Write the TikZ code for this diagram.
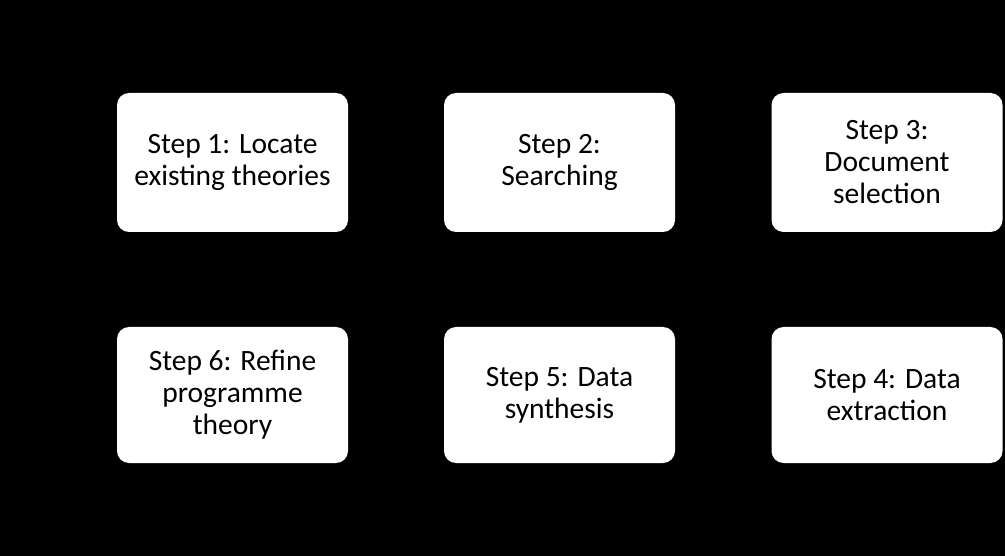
\documentclass[tikz,border=0pt]{standalone}
\usepackage{fontspec}
\setmainfont{Carlito}
\begin{document}
\begin{tikzpicture}[x=1pt,y=-1pt,
  stepbox/.style={fill=white, draw=none, rounded corners=12pt, minimum width=231pt,
    align=center, font=\fontsize{29.5}{32}\selectfont, text=black, inner sep=0pt}]
\fill[black] (0,0) rectangle (1005,556);
\useasboundingbox (0,0) rectangle (1005,556);
\node[stepbox, minimum height=139pt] (s1) at (232.5,162.5) {Step 1: Locate\\existing theories};
\node[stepbox, minimum height=139pt] (s2) at (559.5,162.5) {Step 2:\\Searching};
\node[stepbox, minimum height=139pt] (s3) at (887,162.5) {Step 3:\\Document\\selection};
\node[stepbox, minimum height=136pt] (s6) at (232.5,395) {Step 6: Refine\\programme\\theory};
\node[stepbox, minimum height=136pt] (s5) at (559.5,395) {Step 5: Data\\synthesis};
\node[stepbox, minimum height=136pt] (s4) at (887,395) {Step 4: Data\\extraction};
\end{tikzpicture}
\end{document}
